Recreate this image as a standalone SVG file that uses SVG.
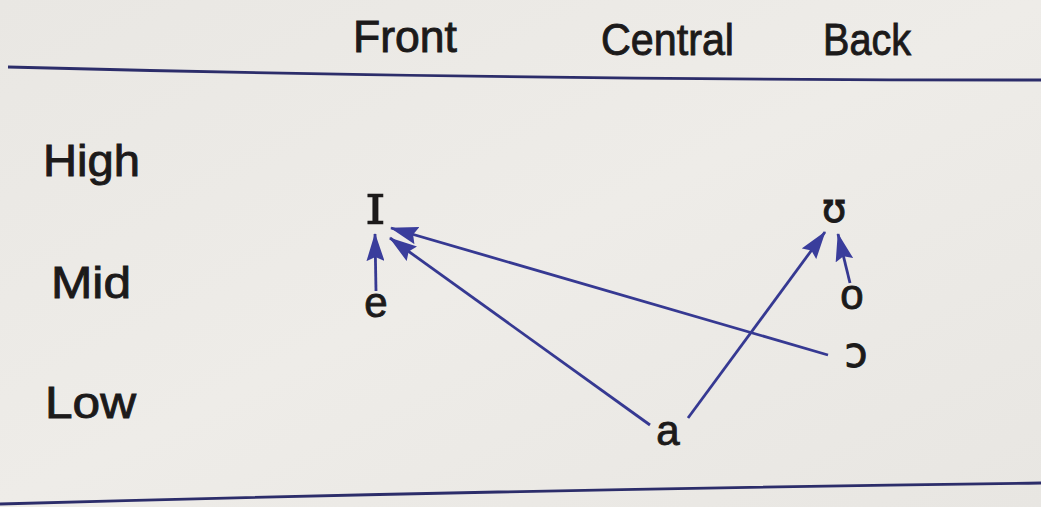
<svg xmlns="http://www.w3.org/2000/svg" width="1041" height="507" viewBox="0 0 1041 507">
  <defs>
    <linearGradient id="bg" x1="0" y1="0" x2="1" y2="1">
      <stop offset="0" stop-color="#e9e7e3"/>
      <stop offset="0.5" stop-color="#eeece8"/>
      <stop offset="1" stop-color="#e8e6e2"/>
    </linearGradient>
    <marker id="ah" viewBox="0 0 28 18" refX="27" refY="9" markerWidth="28" markerHeight="18" markerUnits="userSpaceOnUse" orient="auto">
      <path d="M0,0 L28,9 L0,18 L4,9 z" fill="#3a3d9c"/>
    </marker>
    <style>
      .lbl { font-family: "Liberation Sans", Arial, sans-serif; fill: #1c1a1a; stroke: #1c1a1a; stroke-width: 0.9px; font-size: 44px; }
      .ipa { font-family: "Liberation Sans", "DejaVu Sans", sans-serif; fill: #1c1a1a; stroke: #1c1a1a; stroke-width: 0.9px; font-size: 42px; text-anchor: middle; }
      .rule { stroke: #2c2d6a; stroke-width: 2.8; fill: none; }
      .arr { stroke: #363992; stroke-width: 2.8; fill: none; marker-end: url(#ah); }
    </style>
  </defs>
  <rect width="1041" height="507" fill="url(#bg)"/>

  <g id="rules">
    <path class="rule" d="M8,67 Q500,80 1041,80"/>
    <path class="rule" d="M0,504 Q500,490 1041,483"/>
  </g>

  <g id="headers">
    <text class="lbl" x="353" y="52" textLength="104" lengthAdjust="spacingAndGlyphs">Front</text>
    <text class="lbl" x="601" y="55" textLength="133" lengthAdjust="spacingAndGlyphs">Central</text>
    <text class="lbl" x="823" y="55" textLength="88" lengthAdjust="spacingAndGlyphs">Back</text>
  </g>
  <g id="rows">
    <text class="lbl" x="43" y="176" textLength="97" lengthAdjust="spacingAndGlyphs">High</text>
    <text class="lbl" x="51" y="298" textLength="80" lengthAdjust="spacingAndGlyphs">Mid</text>
    <text class="lbl" x="45" y="418" textLength="91" lengthAdjust="spacingAndGlyphs">Low</text>
  </g>

  <g id="node-I"><text x="375" y="224" style="font-family:'DejaVu Serif','Liberation Serif',serif;font-size:58px;fill:#1c1a1a;stroke:#1c1a1a;stroke-width:0.6px;text-anchor:middle">ɪ</text></g>
  <g id="node-e"><text class="ipa" x="376" y="317">e</text></g>
  <g id="node-U"><text class="ipa" x="834" y="222" style="font-family:'DejaVu Sans',sans-serif;font-size:40px">ʊ</text></g>
  <g id="node-o"><text class="ipa" x="852" y="309">o</text></g>
  <g id="node-open-o"><text class="ipa" x="856" y="367" style="font-family:'DejaVu Sans',sans-serif;font-size:42px">ɔ</text></g>
  <g id="node-a"><text class="ipa" x="668" y="445">a</text></g>

  <g id="connectors">
    <line class="arr" x1="376" y1="291" x2="375" y2="234"/>
    <line class="arr" x1="828" y1="355" x2="391" y2="228"/>
    <line class="arr" x1="650" y1="425" x2="390" y2="238"/>
    <line class="arr" x1="688" y1="418" x2="825" y2="232"/>
    <line class="arr" x1="850" y1="283" x2="838" y2="234"/>
  </g>
</svg>
